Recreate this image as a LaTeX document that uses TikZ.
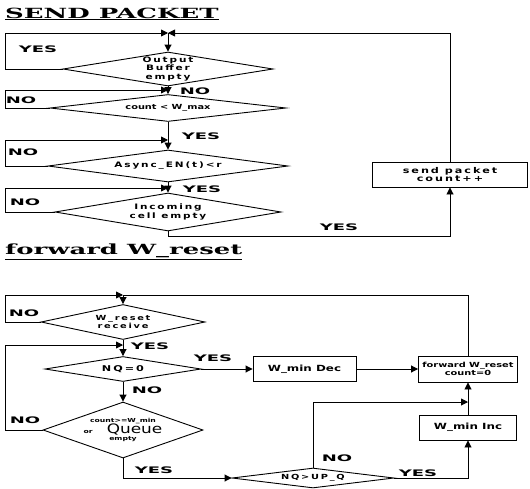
\documentclass[tikz,border=0pt]{standalone}
\usepackage{fontspec}
\usepackage{tikz}
\usetikzlibrary{shapes.geometric,arrows.meta}
\newfontfamily\flux[FakeStretch=1.4]{DejaVu Sans}
\newfontfamily\fluxlarge[FakeStretch=1.4,LetterSpace=25]{DejaVu Sans}
\newfontfamily\ouinon[FakeStretch=2]{DejaVu Sans}
\newfontfamily\fonttitre[FakeStretch=1.85]{DejaVu Serif}
\newfontfamily\fontqueue[FakeStretch=1.3]{DejaVu Sans}

\begin{document}
\begin{tikzpicture}[
  x = 1pt, y = -1pt,
  decision/.style = {diamond, draw, line width=0.9pt, inner sep=0pt, align=center},
  bloc/.style     = {draw, line width=0.9pt, inner sep=1pt, align=center},
  fleche/.style   = {-{Triangle[length=7pt,width=7pt]}, line width=0.9pt},
  lien/.style     = {line width=0.9pt},
  etiq/.style     = {font=\ouinon\bfseries\fontsize{9}{9}\selectfont, inner sep=0pt},
  titre/.style    = {font=\fonttitre\bfseries\fontsize{14}{14}\selectfont, anchor=west, inner sep=0pt}
]
\useasboundingbox (0,0) rectangle (530,488);
\coordinate (bord) at (5,0);

% SEND PACKET
\node[titre] (t1) at (5,14) {\underline{SEND PACKET}};
\coordinate (j1) at (168,33);
\coordinate (j2) at (168,90);
\coordinate (j3) at (168,140);
\coordinate (j4) at (168,188);
\coordinate (c1) at (168,236);
\node[decision, aspect=6.2, minimum width=210, minimum height=34,
      font=\fluxlarge\bfseries\fontsize{7.5}{8.5}\selectfont] (d1) at (168,69) {Output\\Buffer\\empty};
\node[decision, aspect=8.7, minimum width=236, minimum height=27,
      font=\flux\bfseries\fontsize{7}{8}\selectfont] (d2) at (168,108) {count < W\_max};
\node[decision, aspect=7.5, minimum width=240, minimum height=32,
      font=\fluxlarge\bfseries\fontsize{7.5}{8.5}\selectfont] (d3) at (168,166) {Async\_EN(t)<r};
\node[decision, aspect=6, minimum width=226, minimum height=38,
      font=\fluxlarge\bfseries\fontsize{7.5}{9}\selectfont] (d4) at (168,212) {Incoming\\cell empty};
\node[bloc, minimum width=155, minimum height=25,
      font=\fluxlarge\bfseries\fontsize{8}{8.5}\selectfont] (send) at (450,174.5) {send packet\\count++};

\draw[fleche] (d1.west) -- (d1.west -| bord) |- (j1);
\draw[fleche] (send.north) |- (j1);
\draw[fleche] (j1) -- (d1.north);
\draw[fleche] (d1.south) -- (d2.north);
\draw[fleche] (d2.west) -- (d2.west -| bord) |- (j2);
\draw[fleche] (d2.south) -- (d3.north);
\draw[fleche] (d3.west) -- (d3.west -| bord) |- (j3);
\draw[fleche] (d3.south) -- (d4.north);
\draw[fleche] (d4.west) -- (d4.west -| bord) |- (j4);
\draw[fleche] (d4.south) -- (c1) -| (send.south);

\node[etiq] (oui1) at (38,49) {YES};
\node[etiq] (non1) at (195,91) {NO};
\node[etiq] (non2) at (21,100) {NO};
\node[etiq] (oui2) at (201,136) {YES};
\node[etiq] (non3) at (23,152) {NO};
\node[etiq] (oui3) at (202,189) {YES};
\node[etiq] (non4) at (25,202) {NO};
\node[etiq] (oui4) at (339,227) {YES};

% forward W_reset
\node[titre] (t2) at (5,252) {\underline{forward W\_reset}};
\coordinate (j5) at (123,295);
\coordinate (j6) at (123,345);
\coordinate (j8) at (468,402);
\node[decision, aspect=4.7, minimum width=164, minimum height=35,
      font=\fluxlarge\bfseries\fontsize{7}{8.5}\selectfont] (d5) at (123,322) {W\_reset\\receive};
\node[decision, aspect=6.2, minimum width=156, minimum height=25,
      font=\fluxlarge\bfseries\fontsize{8}{9}\selectfont] (d6) at (123,369) {NQ=0};
\node[decision, aspect=2.86, minimum width=160, minimum height=56,
      font=\flux\bfseries\fontsize{5.5}{7}\selectfont] (d7) at (123,430)
  {\makebox[0pt]{\begin{tabular}{@{}c@{}}
     count>=W\_min\\[0pt]
     or\hspace{14pt}{\fontqueue\mdseries\fontsize{13}{13}\selectfont Queue}\\[0pt]
     empty
   \end{tabular}}};
\node[decision, aspect=8, minimum width=162, minimum height=20,
      font=\fluxlarge\bfseries\fontsize{7}{8.5}\selectfont] (d8) at (313,478) {NQ>UP\_Q};
\node[bloc, minimum width=103, minimum height=25,
      font=\flux\bfseries\fontsize{8.5}{9}\selectfont] (dec) at (304.5,369) {W\_min Dec};
\node[bloc, minimum width=99, minimum height=26,
      font=\flux\bfseries\fontsize{7}{8.5}\selectfont] (fwd) at (468,369) {forward W\_reset\\count=0};
\node[bloc, minimum width=97, minimum height=25,
      font=\flux\bfseries\fontsize{8.5}{9}\selectfont] (inc) at (468,427.5) {W\_min Inc};

\draw[fleche] (d5.west) -- (d5.west -| bord) |- (j5);
\draw[lien] (fwd.north) |- (j5);
\draw[fleche] (j5) -- (d5.north);
\draw[fleche] (d5.south) -- (d6.north);
\draw[fleche] (d7.west) -- (d7.west -| bord) |- (j6);
\draw[fleche] (d6.east) -- (dec.west);
\draw[fleche] (dec.east) -- (fwd.west);
\draw[fleche] (d6.south) -- (d7.north);
\draw[fleche] (d7.south) |- (d8.west);
\draw[fleche] (d8.north) |- (j8);
\draw[fleche] (d8.east) -| (inc.south);
\draw[fleche] (inc.north) -- (fwd.south);

\node[etiq] (non5) at (24,313) {NO};
\node[etiq] (oui5) at (150,346) {YES};
\node[etiq] (oui6) at (213,358) {YES};
\node[etiq] (non6) at (147,390) {NO};
\node[etiq] (non7) at (25,420) {NO};
\node[etiq] (oui7) at (154,470) {YES};
\node[etiq] (non8) at (337,458) {NO};
\node[etiq] (oui8) at (418,473) {YES};
\end{tikzpicture}
\end{document}
